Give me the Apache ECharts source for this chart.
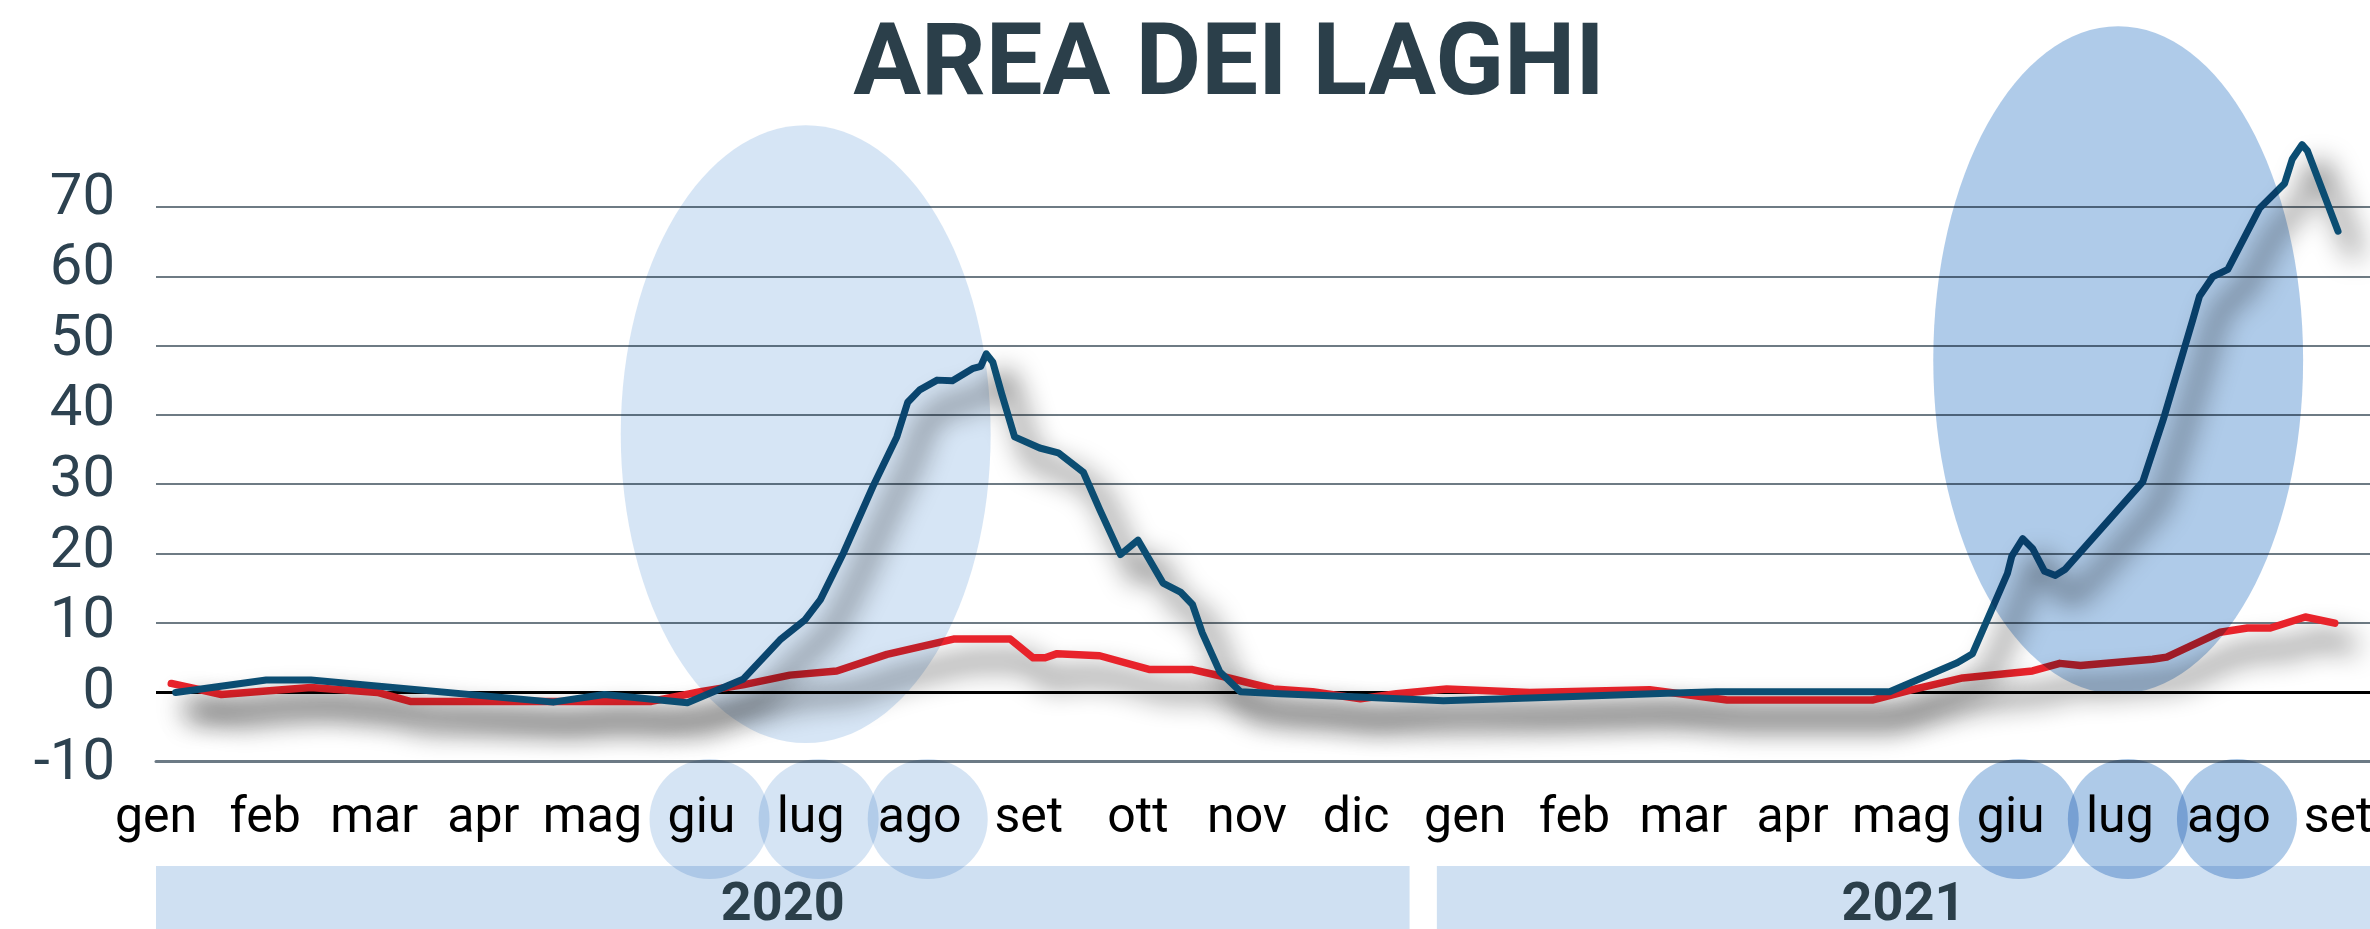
<!DOCTYPE html>
<html>
<head>
<meta charset="utf-8">
<script src="https://cdn.jsdelivr.net/npm/echarts/dist/echarts.min.js"></script>
<style>
html,body{margin:0;padding:0;background:#ffffff;}
#c{width:2370px;height:929px;}
</style>
</head>
<body>
<div id="c"></div>
<script>
// ---------------- DATA ----------------
const chartTitle = 'AREA DEI LAGHI';
const monthLabels = ['gen','feb','mar','apr','mag','giu','lug','ago','set','ott','nov','dic',
                     'gen','feb','mar','apr','mag','giu','lug','ago','set'];
const yearLabels = ['2020', '2021'];
const yTicks = [-10, 0, 10, 20, 30, 40, 50, 60, 70];
// highlighted months (index in monthLabels)
const highlight2020 = [5, 6, 7];
const highlight2021 = [17, 18, 19];

// blue series: time in months from gen 2020, value
const blueT = [0.18, 1.01, 1.42, 3.64, 4.11, 4.87, 5.38, 5.72, 5.95, 6.09, 6.30, 6.57, 6.79, 6.89,
  7.00, 7.16, 7.30, 7.49, 7.56, 7.61, 7.67, 7.75, 7.87, 8.10, 8.27, 8.50, 8.65, 8.84, 9.00, 9.23,
  9.39, 9.50, 9.59, 9.75, 9.94, 10.30, 10.92, 11.80, 12.59, 13.85, 14.30, 15.89, 16.51, 16.65,
  16.97, 17.01, 17.11, 17.20, 17.31, 17.41, 17.50, 18.21, 18.40, 18.67, 18.73, 18.85, 18.99,
  19.28, 19.51, 19.58, 19.67, 19.72, 20.00];
const blueV = [-0.1, 1.7, 1.7, -1.5, -0.4, -1.6, 1.8, 7.5, 10.4, 13.3, 20.0, 29.6, 36.8, 41.8,
  43.6, 45.0, 44.9, 46.7, 47.0, 48.8, 47.6, 43.1, 36.8, 35.2, 34.5, 31.7, 26.3, 19.8, 21.9, 15.7,
  14.4, 12.6, 8.5, 2.9, 0.0, -0.3, -0.7, -1.3, -0.9, -0.2, 0.0, 0.0, 4.2, 5.5,
  17.1, 19.6, 22.1, 20.7, 17.4, 16.8, 17.7, 30.3, 39.4, 53.8, 57.1, 59.9, 61.0,
  69.8, 73.4, 76.9, 79.0, 78.1, 66.5];

// red series
const redT = [0.14, 0.60, 1.42, 2.03, 2.33, 4.54, 4.99, 5.38, 5.81, 6.24, 6.70, 7.31, 7.83, 8.04,
  8.15, 8.26, 8.65, 9.11, 9.50, 9.78, 10.24, 10.60, 11.04, 11.37, 11.83, 12.59, 13.69, 14.40,
  15.73, 16.10, 16.56, 17.20, 17.45, 17.64, 18.30, 18.43, 18.92, 19.17, 19.38, 19.70, 19.97];
const redV = [1.2, -0.4, 0.6, -0.1, -1.4, -1.4, 0.0, 1.0, 2.4, 3.0, 5.4, 7.6, 7.6, 4.9,
  4.9, 5.5, 5.2, 3.2, 3.2, 2.2, 0.4, 0.0, -1.0, -0.3, 0.4, -0.1, 0.3, -1.2,
  -1.2, 0.3, 2.0, 3.0, 4.1, 3.8, 4.7, 5.0, 8.6, 9.2, 9.2, 10.8, 9.9];

// ---------------- LAYOUT / STYLE ----------------
const X_MAX = 20.293;
const FONT = 'Roboto';
const DARK = '#2b3f4a';
// highlight ellipses, bounding boxes in data space [mFrom, mTo, vLow, vHigh]
const ellipseBoxes = [
  {box: [4.26, 7.65, -7.4, 81.8], color: '#d6e5f5'},
  {box: [16.29, 19.68, -0.3, 96.1], color: '#afcbe9'}
];
// year bands: month ranges
const bandRanges = [[0, 11.49], [11.74, X_MAX]];

const chart = echarts.init(document.getElementById('c'), null, {renderer: 'canvas', width: 2370, height: 929});

const shadow = {shadowColor: 'rgba(0,0,0,0.95)', shadowBlur: 28, shadowOffsetX: 17, shadowOffsetY: 22};

const option = {
  animation: false,
  backgroundColor: '#ffffff',
  grid: [
    {left: 156, right: 0, top: 207, bottom: 168, containLabel: false, outerBoundsMode: 'none'},
    {left: 156, right: 0, top: 199, bottom: 165, containLabel: false, outerBoundsMode: 'none'}
  ],
  xAxis: [
    {
      type: 'value', gridIndex: 0, min: 0, max: X_MAX, interval: 1,
      axisLine: {show: true, onZero: false, lineStyle: {color: '#6c7a85', width: 3}},
      axisTick: {show: false},
      splitLine: {show: false},
      axisLabel: {
        show: true, margin: 33, color: '#000000', fontFamily: FONT, fontSize: 50,
        showMaxLabel: false, hideOverlap: false,
        formatter: function (v) {
          const r = Math.round(v);
          return Math.abs(v - r) < 1e-6 && monthLabels[r] !== undefined ? monthLabels[r] : '';
        }
      }
    },
    {type: 'value', gridIndex: 1, min: 0, max: X_MAX, show: false}
  ],
  yAxis: [
    {
      type: 'value', gridIndex: 0, min: yTicks[0], max: yTicks[yTicks.length - 1], interval: 10,
      axisLabel: {show: false}, axisLine: {show: false}, axisTick: {show: false},
      splitLine: {show: true, lineStyle: {color: '#3e4f5b', width: 1.5}}
    },
    {
      type: 'value', gridIndex: 1, min: yTicks[0], max: yTicks[yTicks.length - 1], interval: 10,
      axisLabel: {show: true, margin: 41, color: '#2d4250', fontFamily: FONT, fontSize: 58},
      axisLine: {show: false}, axisTick: {show: false}, splitLine: {show: false}
    }
  ],
  series: [
    {
      name: 'red', type: 'line', xAxisIndex: 0, yAxisIndex: 0,
      data: redT.map((t, i) => [t, redV[i]]),
      symbol: 'none', showSymbol: false, clip: false, smooth: false,
      lineStyle: Object.assign({color: '#e8232b', width: 7.5, cap: 'round', join: 'round'}, shadow),
      markLine: {
        silent: true, symbol: 'none', z: 1, label: {show: false},
        lineStyle: {color: '#000000', width: 3, type: 'solid'},
        data: [{yAxis: 0}]
      }
    },
    {
      name: 'blue', type: 'line', xAxisIndex: 0, yAxisIndex: 0,
      data: blueT.map((t, i) => [t, blueV[i]]),
      symbol: 'none', showSymbol: false, clip: false, smooth: false,
      lineStyle: Object.assign({color: '#0b4d72', width: 7, cap: 'round', join: 'round'}, shadow)
    }
  ]
};
chart.setOption(option);

// ------------- annotations derived from axis scales -------------
const px = (m, v) => chart.convertToPixel({gridIndex: 0}, [m, v]);
const graphics = [];

// title
graphics.push({
  type: 'text', z: 10,
  style: {text: chartTitle, x: 1229, y: 69, font: 'bold 101px ' + FONT, fill: DARK,
          textAlign: 'center', textVerticalAlign: 'middle', align: 'center', verticalAlign: 'middle'}
});

// year bands
bandRanges.forEach((r, i) => {
  const x0 = px(r[0], 0)[0], x1 = Math.min(px(r[1], 0)[0], 2370);
  graphics.push({type: 'rect', z: 5, shape: {x: x0, y: 866, width: x1 - x0, height: 63}, style: {fill: '#cfe0f2'}});
  graphics.push({
    type: 'text', z: 6,
    style: {text: yearLabels[i], x: (x0 + x1) / 2, y: 906, font: 'bold 54px ' + FONT, fill: DARK,
            textAlign: 'center', textVerticalAlign: 'middle', align: 'center', verticalAlign: 'middle'}
  });
});

// month circles
[[highlight2020, '#d5e4f4'], [highlight2021, '#aecae8']].forEach(([list, col]) => {
  list.forEach(m => {
    const cx = px(m, 0)[0] + 8;
    graphics.push({type: 'circle', z: 100, shape: {cx: cx, cy: 819, r: 60},
                   style: {fill: col, blend: 'multiply'}});
  });
});

// big ellipses
ellipseBoxes.forEach(e => {
  const p0 = px(e.box[0], e.box[3]);
  const p1 = px(e.box[1], e.box[2]);
  graphics.push({type: 'ellipse', z: 100,
    shape: {cx: (p0[0] + p1[0]) / 2, cy: (p0[1] + p1[1]) / 2, rx: (p1[0] - p0[0]) / 2, ry: (p1[1] - p0[1]) / 2},
    style: {fill: e.color, blend: 'multiply'}});
});

chart.setOption({graphic: graphics});
</script>
</body>
</html>
